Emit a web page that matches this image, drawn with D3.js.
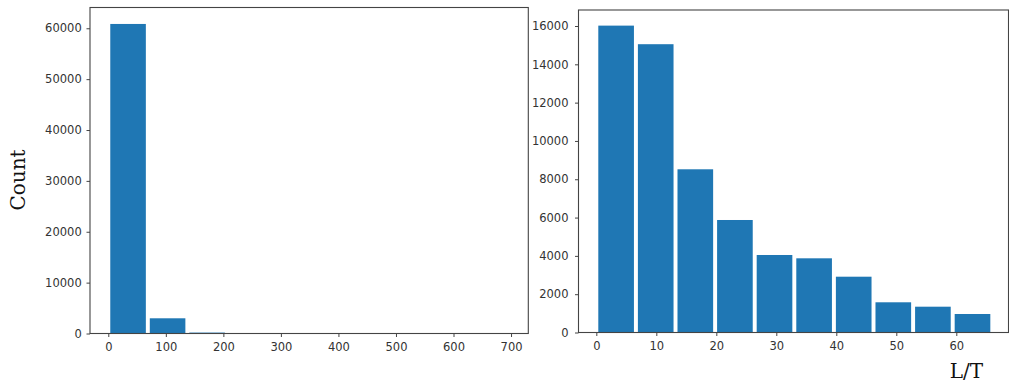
<!DOCTYPE html>
<html>
<head>
<meta charset="utf-8">
<script src="https://cdn.jsdelivr.net/npm/d3@7"></script>
<style>
  html, body { margin: 0; padding: 0; background: #fff; }
  svg { display: block; }
  .tick text { font-family: "DejaVu Sans", sans-serif; font-size: 11.5px; fill: #333; }
  .label { font-family: "DejaVu Serif", serif; font-size: 20px; fill: #111; }
</style>
</head>
<body>
<svg id="chart" width="1009" height="384"></svg>
<script>
// ---- data ----
// Left panel: histogram of all values (10 bins, bin width ~68.7)
const leftBinWidth = 68.7;
const leftCounts = [60850, 2990, 180, 40, 15, 8, 4, 2, 1, 1];
const leftXTicks = [0, 100, 200, 300, 400, 500, 600, 700];
const leftYTicks = [0, 10000, 20000, 30000, 40000, 50000, 60000];

// Right panel: histogram of L/T (10 bins, bin width 6.6)
const rightBinWidth = 6.6;
const rightCounts = [16020, 15050, 8520, 5873, 4046, 3873, 2913, 1577, 1347, 966];
const rightXTicks = [0, 10, 20, 30, 40, 50, 60];
const rightYTicks = [0, 2000, 4000, 6000, 8000, 10000, 12000, 14000, 16000];

const yLabel = "Count";
const xLabel = "L/T";

const barColor = "#1f77b4";
const axisColor = "#444";
const rwidth = 0.9;

const svg = d3.select("#chart");

function panel(cfg) {
  const x = d3.scaleLinear().domain(cfg.xDomain).range([cfg.left, cfg.right]);
  const y = d3.scaleLinear().domain(cfg.yDomain).range([cfg.bottom, cfg.top]);
  const g = svg.append("g");

  const bins = cfg.counts.map((c, i) => ({
    x0: i * cfg.binWidth,
    x1: (i + 1) * cfg.binWidth,
    count: c
  }));

  g.selectAll("rect.bar").data(bins).join("rect")
    .attr("class", "bar")
    .attr("x", d => x(d.x0 + (1 - rwidth) / 2 * cfg.binWidth))
    .attr("width", d => x(d.x1) - x(d.x0) - (1 - rwidth) * (x(d.x1) - x(d.x0)))
    .attr("y", d => y(d.count))
    .attr("height", d => y(0) - y(d.count))
    .attr("fill", barColor);

  // frame
  g.append("rect")
    .attr("x", cfg.left).attr("y", cfg.top)
    .attr("width", cfg.right - cfg.left).attr("height", cfg.bottom - cfg.top)
    .attr("fill", "none").attr("stroke", axisColor).attr("stroke-width", 1.1);

  const xa = g.append("g")
    .attr("transform", `translate(0,${cfg.bottom})`)
    .call(d3.axisBottom(x).tickValues(cfg.xTicks).tickSize(3.5).tickSizeOuter(0).tickPadding(6.3));
  const ya = g.append("g")
    .attr("transform", `translate(${cfg.left},0)`)
    .call(d3.axisLeft(y).tickValues(cfg.yTicks).tickSize(3.5).tickSizeOuter(0)
      .tickPadding(cfg.yPad).tickFormat(d3.format("d")));
  [xa, ya].forEach(a => {
    a.select(".domain").remove();
    a.selectAll(".tick line").attr("stroke", axisColor);
  });
  return { x, y, g };
}

panel({
  left: 90, right: 528.3, top: 7.5, bottom: 333.5,
  xDomain: [-31.8, 730], yDomain: [0, (333.5 - 7.5) / 0.005087],
  binWidth: leftBinWidth, counts: leftCounts,
  xTicks: leftXTicks, yTicks: leftYTicks, yPad: 4.8
});

panel({
  left: 578.5, right: 1008.5, top: 10, bottom: 332.5,
  xDomain: [-2.97, 68.7], yDomain: [0, (332.5 - 10) / 0.019156],
  binWidth: rightBinWidth, counts: rightCounts,
  xTicks: rightXTicks, yTicks: rightYTicks, yPad: 6.5
});

svg.append("text")
  .attr("class", "label")
  .attr("transform", "translate(25,180) rotate(-90)")
  .attr("text-anchor", "middle")
  .text(yLabel);

svg.append("text")
  .attr("class", "label")
  .attr("x", 966.5).attr("y", 377.5)
  .attr("text-anchor", "middle")
  .text(xLabel);
</script>
</body>
</html>
